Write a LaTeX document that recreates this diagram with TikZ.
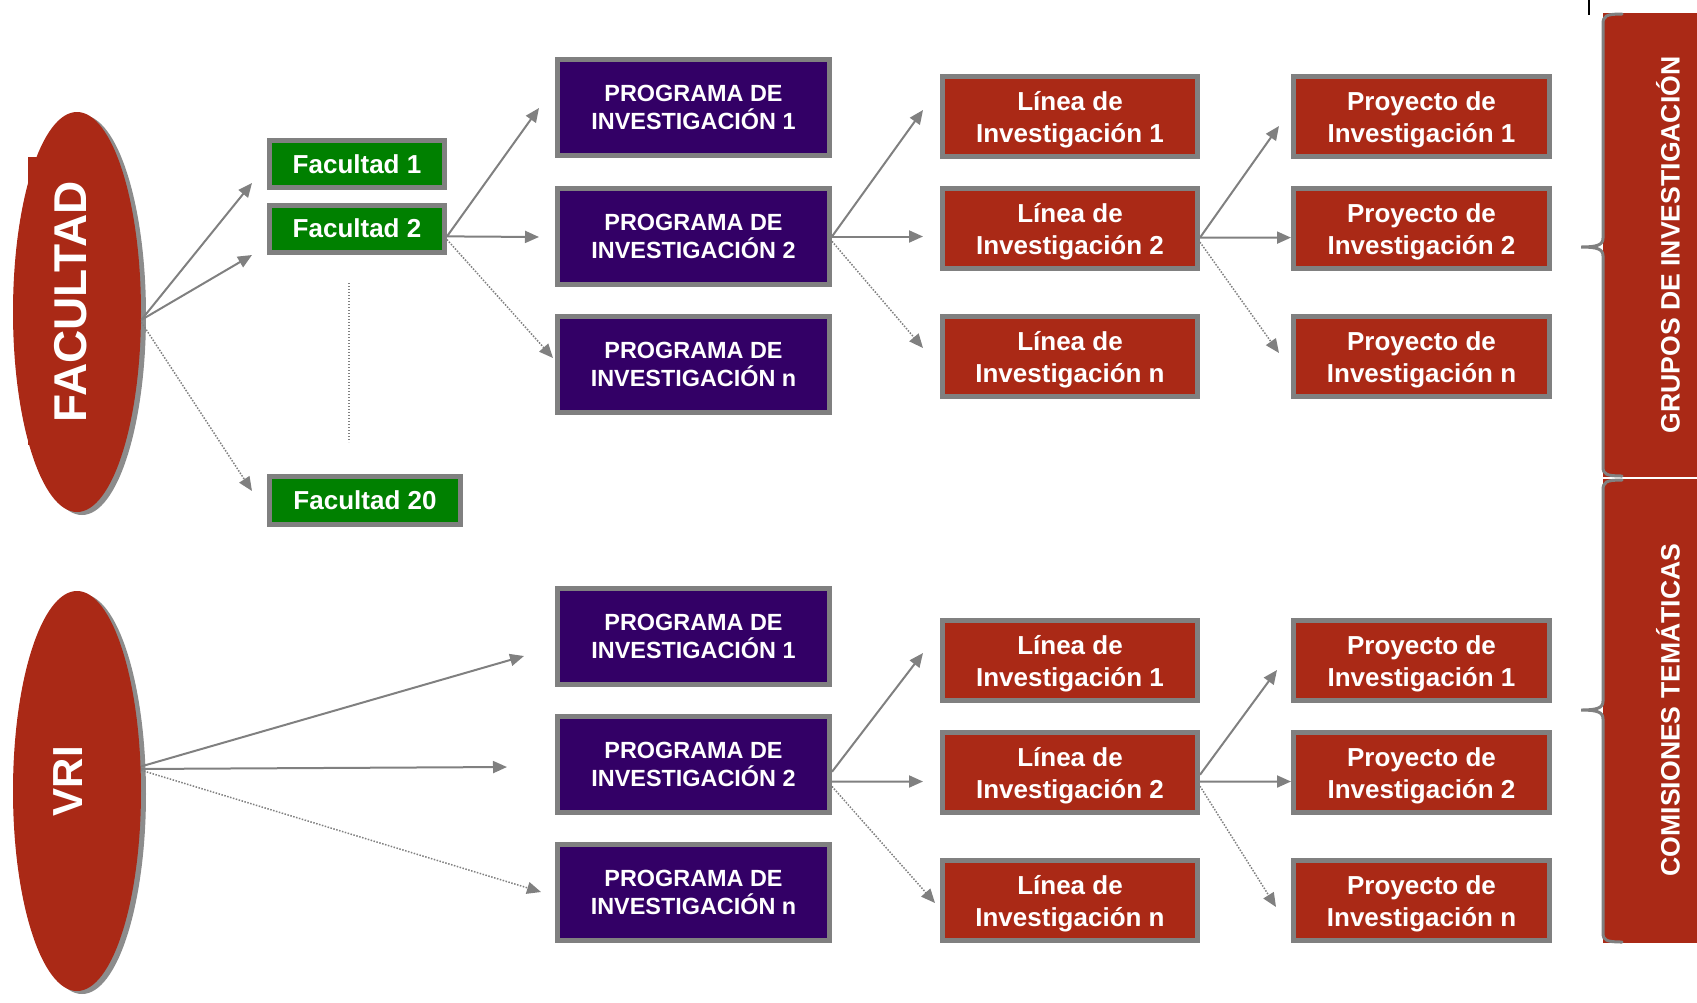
\documentclass[tikz,border=0pt]{standalone}
\usepackage{fontspec}
\setmainfont{Liberation Sans}
\usepackage{xcolor}
\usetikzlibrary{arrows.meta}
\usetikzlibrary{shapes.geometric}
\usetikzlibrary{shadows}

\definecolor{rojo}{RGB}{170,41,22}
\definecolor{verde}{RGB}{0,128,0}
\definecolor{morado}{RGB}{51,0,102}
\definecolor{borde}{RGB}{128,128,128}

\tikzset{
  caja/.style={draw=borde, line width=2.5pt, text=white, align=center, inner sep=0pt},
  facbox/.style={caja, fill=verde, minimum width=87.5pt, minimum height=23.5pt,
    font=\fontsize{13}{15}\selectfont\bfseries},
  progbox/.style={caja, fill=morado, minimum width=136pt, minimum height=48pt,
    font=\fontsize{11.7}{14}\selectfont\bfseries},
  lineabox/.style={caja, fill=rojo, minimum width=127.5pt, minimum height=40pt,
    text height=29pt, font=\fontsize{13}{16}\selectfont\bfseries},
  proybox/.style={lineabox, minimum width=128pt},
  elipse/.style={ellipse, fill=rojo, minimum width=64pt, minimum height=200pt, inner sep=0pt,
    drop shadow={shadow xshift=2.5pt, shadow yshift=-1.5pt, fill=black!45, opacity=1}},
  titulo/.style={text=white, font=\fontsize{23}{26}\selectfont\bfseries, inner sep=0pt},
  rotulo/.style={text=white, font=\fontsize{13.3}{15}\selectfont\bfseries, inner sep=0pt, rotate=90},
  flecha/.style={draw=borde, line width=1pt, -{Triangle[length=7pt,width=6pt]}},
  punteada/.style={flecha, line width=0.75pt, dash pattern=on 0.75pt off 0.75pt},
  llave/.style={draw=borde, line width=1.5pt, line cap=round}
}

\begin{document}
\begin{tikzpicture}[x=0.5pt, y=-0.5pt]
    \useasboundingbox (0,0) rectangle (1697,1002);

    % Elipses
    \fill[rojo] (28,157) rectangle (50,445);
    \node[elipse] (fac) at (77,312) {};
    \node[titulo, rotate=90] (facT) at (71,302) {FACULTAD};
    \node[elipse] (vri) at (77,791) {};
    \node[titulo, rotate=90, font=\fontsize{21}{24}\selectfont\bfseries] (vriT) at (68,781) {VRI};

    % Facultades
    \node[facbox] (f1) at (357,164) {Facultad 1};
    \node[facbox] (f2) at (357,228.5) {Facultad 2};
    \node[facbox, minimum width=95.5pt, minimum height=24pt] (f20) at (365,500.5) {Facultad 20};
    \draw[borde, line width=0.6pt, dash pattern=on 0.6pt off 0.9pt] (349,283) -- (349,442);

    % Programas (arriba)
    \node[progbox] (p1) at (693.5,107.5) {PROGRAMA DE\\INVESTIGACIÓN 1};
    \node[progbox] (p2) at (693.5,236.5) {PROGRAMA DE\\INVESTIGACIÓN 2};
    \node[progbox] (pn) at (693.5,364.5) {PROGRAMA DE\\INVESTIGACIÓN n};

    % Lineas (arriba)
    \node[lineabox] (l1) at (1070,116) {Línea de\\Investigación 1};
    \node[lineabox] (l2) at (1070,228.5) {Línea de\\Investigación 2};
    \node[lineabox] (ln) at (1070,356.5) {Línea de\\Investigación n};

    % Proyectos (arriba)
    \node[proybox] (y1) at (1421.5,116) {Proyecto de\\Investigación 1};
    \node[proybox] (y2) at (1421.5,228.5) {Proyecto de\\Investigación 2};
    \node[proybox] (yn) at (1421.5,356.5) {Proyecto de\\Investigación n};

    % Programas (abajo)
    \node[progbox] (p1b) at (693.5,636.5) {PROGRAMA DE\\INVESTIGACIÓN 1};
    \node[progbox] (p2b) at (693.5,764.5) {PROGRAMA DE\\INVESTIGACIÓN 2};
    \node[progbox] (pnb) at (693.5,892.5) {PROGRAMA DE\\INVESTIGACIÓN n};

    % Lineas (abajo)
    \node[lineabox] (l1b) at (1070,660.5) {Línea de\\Investigación 1};
    \node[lineabox] (l2b) at (1070,772.5) {Línea de\\Investigación 2};
    \node[lineabox] (lnb) at (1070,900.5) {Línea de\\Investigación n};

    % Proyectos (abajo)
    \node[proybox] (y1b) at (1421.5,660.5) {Proyecto de\\Investigación 1};
    \node[proybox] (y2b) at (1421.5,772.5) {Proyecto de\\Investigación 2};
    \node[proybox] (ynb) at (1421.5,900.5) {Proyecto de\\Investigación n};

    % Barras de la derecha
    \fill[rojo] (1603,13) rectangle (1697,477);
    \fill[rojo] (1603,478.5) rectangle (1697,943);
    \node[rotulo] (grupos) at (1668,245) {GRUPOS DE INVESTIGACIÓN};
    \node[rotulo] (comisiones) at (1668,710) {COMISIONES TEMÁTICAS};
    \draw[llave] (1622,14) .. controls (1606,14) and (1603,16) .. (1603,24) -- (1603,238)
      .. controls (1603,245) and (1597,247) .. (1581,247)
      .. controls (1597,247) and (1603,249) .. (1603,256) -- (1603,467)
      .. controls (1603,474) and (1606,476) .. (1622,476);
    \draw[llave] (1622,480) .. controls (1606,480) and (1603,482) .. (1603,490) -- (1603,701)
      .. controls (1603,708) and (1597,710) .. (1581,710)
      .. controls (1597,710) and (1603,712) .. (1603,719) -- (1603,933)
      .. controls (1603,940) and (1606,942) .. (1622,942);
    \draw[black, line width=0.6pt] (1589,0) -- (1589,15);

    % Puntas de flecha (arriba)
    \coordinate (tf1) at (252,183);
    \coordinate (tf2) at (252,255);
    \coordinate (tf20) at (252,491);
    \coordinate (tp1) at (539,108);
    \coordinate (tp2) at (539,237);
    \coordinate (tpn) at (553,358);
    \coordinate (tl1) at (923,110);
    \coordinate (tl2) at (923,236.5);
    \coordinate (tln) at (923,348);
    \coordinate (ty1) at (1279,126);
    \coordinate (ty2) at (1291,237.6);
    \coordinate (tyn) at (1279,353);

    % Puntas de flecha (abajo)
    \coordinate (vp1) at (524,656);
    \coordinate (vp2) at (507,767);
    \coordinate (vpn) at (541,892);
    \coordinate (bl1) at (923,653);
    \coordinate (bl2) at (923,781.5);
    \coordinate (bln) at (935,903);
    \coordinate (by1) at (1277,670);
    \coordinate (by2) at (1291,781.5);
    \coordinate (byn) at (1276,907);

    % Conectores (arriba)
    \draw[flecha] (fac.-7) -- (tf1);
    \draw[flecha] (fac.-7) -- (tf2);
    \draw[punteada] (fac.-9) -- (tf20);
    \draw[flecha] (f2.-5) -- (tp1);
    \draw[flecha] (f2.-5) -- (tp2);
    \draw[punteada] (f2.-7) -- (tpn);
    \draw[flecha] (p2.east) -- (tl1);
    \draw[flecha] (p2.east) -- (tl2);
    \draw[punteada] (p2.-2) -- (tln);
    \draw[flecha] (l2.-4) -- (ty1);
    \draw[flecha] (l2.-4) -- (ty2);
    \draw[punteada] (l2.-6) -- (tyn);

    % Conectores (abajo)
    \draw[flecha] (vri.21) -- (vp1);
    \draw[flecha] (vri.19) -- (vp2);
    \draw[punteada] (vri.18) -- (vpn);
    \draw[flecha] (p2b.-3) -- (bl1);
    \draw[flecha] (p2b.-7) -- (bl2);
    \draw[punteada] (p2b.-9) -- (bln);
    \draw[flecha] (l2b.-1) -- (by1);
    \draw[flecha] (l2b.-4) -- (by2);
    \draw[punteada] (l2b.-6) -- (byn);
\end{tikzpicture}
\end{document}
